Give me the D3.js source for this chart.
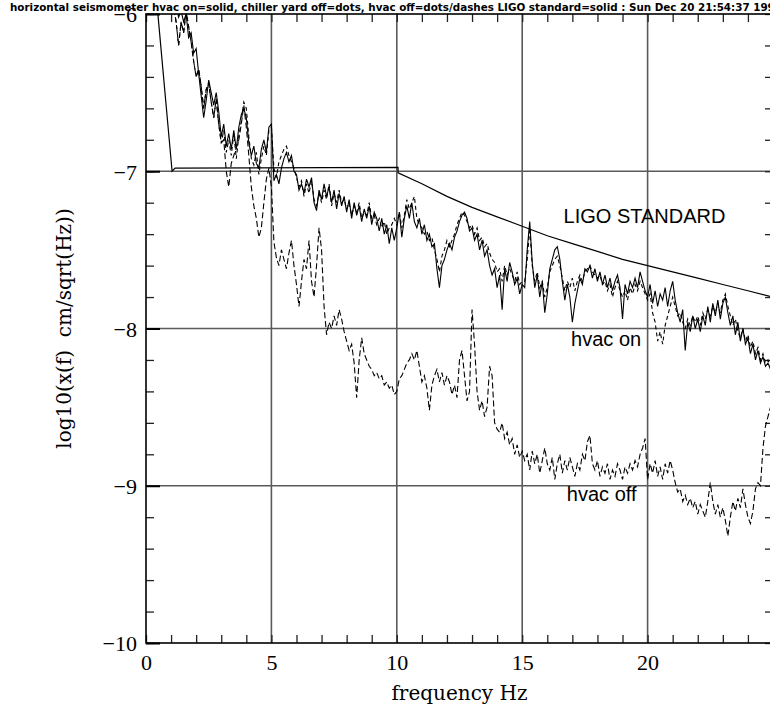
<!DOCTYPE html>
<html>
<head>
<meta charset="utf-8">
<script src="https://cdn.jsdelivr.net/npm/d3@7"></script>
<style>
body { margin: 0; background: #fff; }
svg { display: block; }
</style>
</head>
<body>
<div id="chart"></div>
<script>
const title = 'horizontal seismometer hvac on=solid, chiller yard off=dots, hvac off=dots/dashes LIGO standard=solid : Sun Dec 20 21:54:37 1998';

// spectra sampled every 0.1 Hz from 1.0 to 24.9 Hz
const freq = d3.range(240).map(i => (10 + i) / 10);

const hvacOn = [
    -5.8, -5.9, -5.95, -6.02, -5.98, -6.05, -6.0, -6.15, -6.12, -6.25,
    -6.22, -6.38, -6.52, -6.66, -6.55, -6.42, -6.5, -6.58, -6.5, -6.62,
    -6.78, -6.7, -6.84, -6.76, -6.86, -6.74, -6.86, -6.72, -6.64, -6.6,
    -6.66, -6.82, -6.9, -6.84, -6.95, -6.98, -6.86, -6.8, -6.88, -6.72,
    -6.7, -7.06, -7.02, -7.08, -6.98, -6.92, -6.88, -6.94, -6.9, -7.0,
    -7.02, -7.12, -7.08, -7.14, -7.05, -7.1, -7.04, -7.2, -7.25, -7.12,
    -7.18, -7.08, -7.16, -7.1, -7.2, -7.12, -7.24, -7.14, -7.22, -7.16,
    -7.26, -7.18, -7.3, -7.2, -7.28, -7.22, -7.32, -7.24, -7.3, -7.22,
    -7.34, -7.26, -7.3, -7.38, -7.3, -7.4, -7.34, -7.46, -7.36, -7.44,
    -7.36, -7.26, -7.42, -7.3, -7.22, -7.3, -7.2, -7.32, -7.36, -7.3,
    -7.4, -7.34, -7.44, -7.4, -7.48, -7.46, -7.62, -7.74, -7.6, -7.56,
    -7.5, -7.46, -7.5, -7.42, -7.38, -7.32, -7.28, -7.26, -7.3, -7.38,
    -7.36, -7.44, -7.4, -7.5, -7.44, -7.54, -7.5, -7.6, -7.66, -7.62,
    -7.74, -7.66, -7.88, -7.62, -7.7, -7.58, -7.64, -7.72, -7.68, -7.78,
    -7.72, -7.74, -7.5, -7.32, -7.58, -7.74, -7.66, -7.8, -7.7, -7.9,
    -7.78, -7.62, -7.56, -7.5, -7.48, -7.56, -7.7, -7.82, -7.72, -7.8,
    -7.96, -7.84, -7.76, -7.68, -7.72, -7.62, -7.64, -7.6, -7.68, -7.62,
    -7.7, -7.64, -7.72, -7.66, -7.74, -7.68, -7.76, -7.7, -7.66, -7.74,
    -7.94, -7.72, -7.78, -7.7, -7.74, -7.68, -7.74, -7.64, -7.7, -7.76,
    -7.8, -7.72, -7.84, -7.76, -7.86, -7.78, -7.82, -7.74, -7.86, -7.76,
    -7.7, -7.82, -7.9, -7.96, -7.88, -8.14, -7.96, -8.02, -7.92, -8.0,
    -7.94, -8.02, -7.92, -7.98, -7.86, -7.96, -7.84, -7.92, -7.82, -7.94,
    -7.84, -7.8, -7.9, -7.98, -7.92, -8.04, -7.96, -8.08, -8.0, -8.1,
    -8.06, -8.16, -8.1, -8.2, -8.14, -8.22, -8.18, -8.24, -8.22, -8.26
];

const chillerOff = [
    -5.85, -5.95, -6.05, -6.2, -6.05, -6.12, -5.98, -6.08, -6.18, -6.3,
    -6.4, -6.35, -6.46, -6.6, -6.48, -6.44, -6.56, -6.66, -6.54, -6.7,
    -6.82, -6.74, -6.88, -6.8, -6.9, -6.76, -6.92, -6.78, -6.68, -6.56,
    -6.6, -6.78, -6.92, -6.96, -6.88, -7.02, -6.92, -6.84, -6.9, -6.74,
    -6.72, -6.98, -7.04, -6.94, -6.9, -6.86, -6.84, -6.9, -6.94, -6.98,
    -7.04, -7.1, -7.06, -7.16, -7.08, -7.14, -7.06, -7.18, -7.22, -7.14,
    -7.2, -7.12, -7.18, -7.08, -7.22, -7.14, -7.2, -7.12, -7.2, -7.18,
    -7.24, -7.2, -7.28, -7.22, -7.26, -7.2, -7.3, -7.26, -7.28, -7.2,
    -7.3, -7.28, -7.34, -7.3, -7.36, -7.32, -7.4, -7.36, -7.34, -7.3,
    -7.34, -7.26, -7.36, -7.28, -7.18, -7.24, -7.2, -7.16, -7.3, -7.34,
    -7.36, -7.4, -7.38, -7.44, -7.42, -7.5, -7.56, -7.64, -7.54, -7.5,
    -7.44, -7.48, -7.44, -7.4, -7.34, -7.3, -7.26, -7.28, -7.32, -7.36,
    -7.34, -7.4, -7.36, -7.44, -7.42, -7.48, -7.46, -7.52, -7.56, -7.58,
    -7.64, -7.62, -7.7, -7.6, -7.66, -7.62, -7.66, -7.7, -7.64, -7.72,
    -7.7, -7.7, -7.56, -7.36, -7.6, -7.7, -7.64, -7.74, -7.7, -7.8,
    -7.74, -7.64, -7.6, -7.56, -7.54, -7.6, -7.68, -7.76, -7.7, -7.74,
    -7.68, -7.76, -7.7, -7.66, -7.7, -7.64, -7.62, -7.6, -7.64, -7.66,
    -7.68, -7.66, -7.72, -7.7, -7.76, -7.72, -7.8, -7.74, -7.7, -7.76,
    -7.8, -7.76, -7.82, -7.74, -7.78, -7.72, -7.76, -7.7, -7.74, -7.78,
    -7.82, -7.78, -7.9, -7.96, -8.08, -8.02, -8.1, -7.98, -7.92, -7.86,
    -7.8, -7.86, -7.92, -7.9, -7.96, -8.0, -7.94, -7.98, -7.92, -7.96,
    -7.92, -7.98, -7.9, -7.94, -7.88, -7.92, -7.86, -7.9, -7.84, -7.9,
    -7.82, -7.78, -7.86, -7.92, -7.98, -7.94, -8.02, -8.06, -8.0, -8.08,
    -8.04, -8.12, -8.08, -8.16, -8.12, -8.2, -8.16, -8.22, -8.2, -8.24
];

const hvacOff = [
    -5.85, -5.95, -6.05, -6.2, -6.05, -6.12, -5.98, -6.08, -6.18, -6.3,
    -6.4, -6.35, -6.46, -6.6, -6.48, -6.44, -6.56, -6.66, -6.54, -6.7,
    -6.82, -6.8, -7.0, -7.1, -6.95, -6.9, -6.85, -6.8, -6.7, -6.58,
    -6.72, -6.9, -7.1, -7.22, -7.3, -7.42, -7.36, -7.2, -7.05, -6.98,
    -7.1, -7.45, -7.55, -7.6, -7.5, -7.56, -7.62, -7.52, -7.44, -7.6,
    -7.72, -7.86, -7.7, -7.56, -7.62, -7.44, -7.7, -7.8, -7.6, -7.36,
    -7.5, -7.86, -8.04, -7.96, -8.0, -7.92, -7.98, -7.88, -7.94, -8.02,
    -8.08, -8.14, -8.1, -8.22, -8.44, -8.2, -8.06, -8.16, -8.2, -8.24,
    -8.26, -8.3, -8.28, -8.32, -8.3, -8.36, -8.34, -8.38, -8.36, -8.42,
    -8.4, -8.32, -8.3, -8.26, -8.22, -8.2, -8.16, -8.2, -8.14, -8.24,
    -8.34, -8.3, -8.38, -8.52, -8.36, -8.3, -8.26, -8.34, -8.28, -8.36,
    -8.3, -8.34, -8.42, -8.36, -8.44, -8.2, -8.14, -8.3, -8.46, -8.4,
    -7.88, -8.1, -8.4, -8.52, -8.46, -8.56, -8.5, -8.24, -8.3, -8.6,
    -8.64, -8.66, -8.6, -8.7, -8.66, -8.74, -8.7, -8.8, -8.74, -8.82,
    -8.78, -8.84, -8.8, -8.9, -8.78, -8.86, -8.8, -8.92, -8.84, -8.76,
    -8.86, -8.9, -8.82, -8.96, -8.86, -8.8, -8.92, -8.84, -8.9, -8.82,
    -8.88, -8.94, -8.86, -8.9, -8.8, -8.84, -8.72, -8.68, -8.86, -8.9,
    -8.84, -8.94, -8.88, -8.92, -8.86, -8.96, -8.9, -8.94, -8.86, -8.9,
    -8.96, -8.88, -8.92, -8.86, -8.9, -8.84, -8.88, -8.8, -8.76, -8.7,
    -8.96, -8.86, -8.92, -8.84, -8.94, -8.88, -8.96, -8.86, -8.92, -8.84,
    -8.9, -8.98, -9.04, -9.02, -9.1, -9.06, -9.12, -9.08, -9.14, -9.1,
    -9.18, -9.12, -9.16, -9.2, -9.1, -8.98, -9.1, -9.18, -9.12, -9.2,
    -9.14, -9.22, -9.32, -9.2, -9.1, -9.16, -9.08, -9.14, -9.02, -9.12,
    -9.2, -9.24, -9.16, -9.02, -8.98, -9.0, -8.76, -8.62, -8.56, -8.5
];

// LIGO standard curve
const ligoFreq = [0.36, 1.04, 1.16, 10.05, 10.05, 11, 12, 13, 14, 15, 16, 17, 18, 19, 20, 21, 22, 23, 24, 25];
const ligoLevel = [-5.8, -7.0, -6.98, -6.975, -7.01, -7.08, -7.16, -7.23, -7.29, -7.35, -7.41, -7.46, -7.51, -7.56, -7.6, -7.64, -7.68, -7.72, -7.76, -7.8];

const xLabelTicks = [0, 5, 10, 15, 20];
const yLabelTicks = [-10, -9, -8, -7, -6];
const xGrid = [5, 10, 15, 20];
const yGrid = [-9, -8, -7];
const xMinor = d3.range(0, 26);
const yMinor = d3.range(-10, -5.99, 0.2);

const notes = [
    {text: 'LIGO STANDARD', f: 16.65, v: -7.33},
    {text: 'hvac on', f: 16.95, v: -8.11},
    {text: 'hvac off', f: 16.78, v: -9.1}
];

function draw() {
    let width = 770, height = 711;
    let left = 146, right = 773, top = 14, bottom = 643;

    let svg = d3.select('#chart').append('svg')
        .attr('width', width)
        .attr('height', height)
        .style('background-color', '#FFFFFF');

    let x = d3.scaleLinear().domain([0, 25]).range([left, right]);
    let y = d3.scaleLinear().domain([-10, -6]).range([bottom, top]);

    svg.append('clipPath').attr('id', 'plot')
        .append('rect')
        .attr('x', left).attr('y', top)
        .attr('width', right - left).attr('height', bottom - top);

    // grid lines at the major ticks
    svg.append('g').selectAll('line')
        .data(xGrid).enter().append('line')
        .attr('x1', d => x(d)).attr('x2', d => x(d))
        .attr('y1', top).attr('y2', bottom)
        .attr('stroke', '#5a5a5a').attr('stroke-width', 1.6);
    svg.append('g').selectAll('line')
        .data(yGrid).enter().append('line')
        .attr('x1', left).attr('x2', right)
        .attr('y1', d => y(d)).attr('y2', d => y(d))
        .attr('stroke', '#5a5a5a').attr('stroke-width', 1.6);

    // minor ticks on all four sides, pointing inward
    let minor = [
        d3.axisTop(x).tickValues(xMinor).tickSize(8).tickFormat(''),
        d3.axisBottom(x).tickValues(xMinor).tickSize(8).tickFormat(''),
        d3.axisRight(y).tickValues(yMinor).tickSize(8).tickFormat(''),
        d3.axisLeft(y).tickValues(yMinor).tickSize(8).tickFormat('')
    ];
    let shifts = [`translate(0,${bottom})`, `translate(0,${top})`, `translate(${left},0)`, `translate(${right},0)`];
    minor.forEach((ax, i) => {
        let g = svg.append('g').attr('transform', shifts[i]).call(ax);
        g.select('.domain').remove();
        g.selectAll('line').attr('stroke', '#222').attr('stroke-width', 1.3);
    });

    // darker major tick stubs along the left and bottom
    svg.append('g').attr('transform', `translate(${left},0)`)
        .call(d3.axisRight(y).tickValues(yLabelTicks).tickSize(14).tickFormat(''))
        .call(g => g.select('.domain').remove())
        .selectAll('line').attr('stroke', '#000').attr('stroke-width', 2);

    // frame
    svg.append('rect')
        .attr('x', left).attr('y', top)
        .attr('width', right - left).attr('height', bottom - top)
        .attr('fill', 'none').attr('stroke', '#000').attr('stroke-width', 1.6);

    // tick labels
    let xl = svg.append('g').attr('transform', `translate(0,${bottom})`)
        .call(d3.axisBottom(x).tickValues(xLabelTicks).tickSize(0).tickPadding(0));
    xl.select('.domain').remove();
    xl.selectAll('text')
        .attr('y', 27).attr('dy', 0)
        .attr('font-family', '"Liberation Serif", serif')
        .attr('font-size', 22).attr('fill', '#000');

    let yl = svg.append('g').attr('transform', `translate(${left},0)`)
        .call(d3.axisLeft(y).tickValues(yLabelTicks).tickSize(0).tickPadding(0)
            .tickFormat(d => '\u2212' + Math.abs(d)));
    yl.select('.domain').remove();
    yl.selectAll('text')
        .attr('x', -9).attr('dy', '0.36em')
        .attr('font-family', '"Liberation Serif", serif')
        .attr('font-size', 22).attr('fill', '#000');

    // axis titles
    svg.append('text')
        .attr('x', (left + right) / 2).attr('y', 700)
        .attr('text-anchor', 'middle')
        .attr('font-family', '"DejaVu Serif", serif')
        .attr('font-size', 20)
        .text('frequency Hz');
    svg.append('text')
        .attr('transform', `translate(71,${(top + bottom) / 2}) rotate(-90)`)
        .attr('text-anchor', 'middle')
        .attr('font-family', '"DejaVu Serif", serif')
        .attr('font-size', 20)
        .attr('xml:space', 'preserve')
        .text('log10(x(f)  cm/sqrt(Hz))');

    // spectra
    let plot = svg.append('g').attr('clip-path', 'url(#plot)');
    let line = d3.line().x(d => x(d[0])).y(d => y(d[1]));
    let series = [
        {vals: hvacOff, dash: '6,3'},
        {vals: chillerOff, dash: '4,3'},
        {vals: hvacOn, dash: null}
    ];
    series.forEach(s => {
        plot.append('path')
            .datum(freq.map((f, i) => [f, s.vals[i]]))
            .attr('d', line)
            .attr('fill', 'none')
            .attr('stroke', '#000')
            .attr('stroke-width', 1.1)
            .attr('stroke-dasharray', s.dash);
    });

    plot.append('path')
        .datum(ligoFreq.map((f, i) => [f, ligoLevel[i]]))
        .attr('d', line)
        .attr('fill', 'none')
        .attr('stroke', '#000')
        .attr('stroke-width', 1.2);

    // annotations
    svg.append('g').selectAll('text')
        .data(notes).enter().append('text')
        .attr('x', d => x(d.f)).attr('y', d => y(d.v))
        .attr('font-family', '"Liberation Sans", Arial, sans-serif')
        .attr('font-size', 20)
        .text(d => d.text);

    // header line
    svg.append('text')
        .attr('x', 10).attr('y', 11)
        .attr('font-family', '"DejaVu Sans", sans-serif')
        .attr('font-weight', 'bold')
        .attr('font-size', 10.5)
        .attr('textLength', 772)
        .attr('lengthAdjust', 'spacingAndGlyphs')
        .text(title);
}

draw();
</script>
</body>
</html>
